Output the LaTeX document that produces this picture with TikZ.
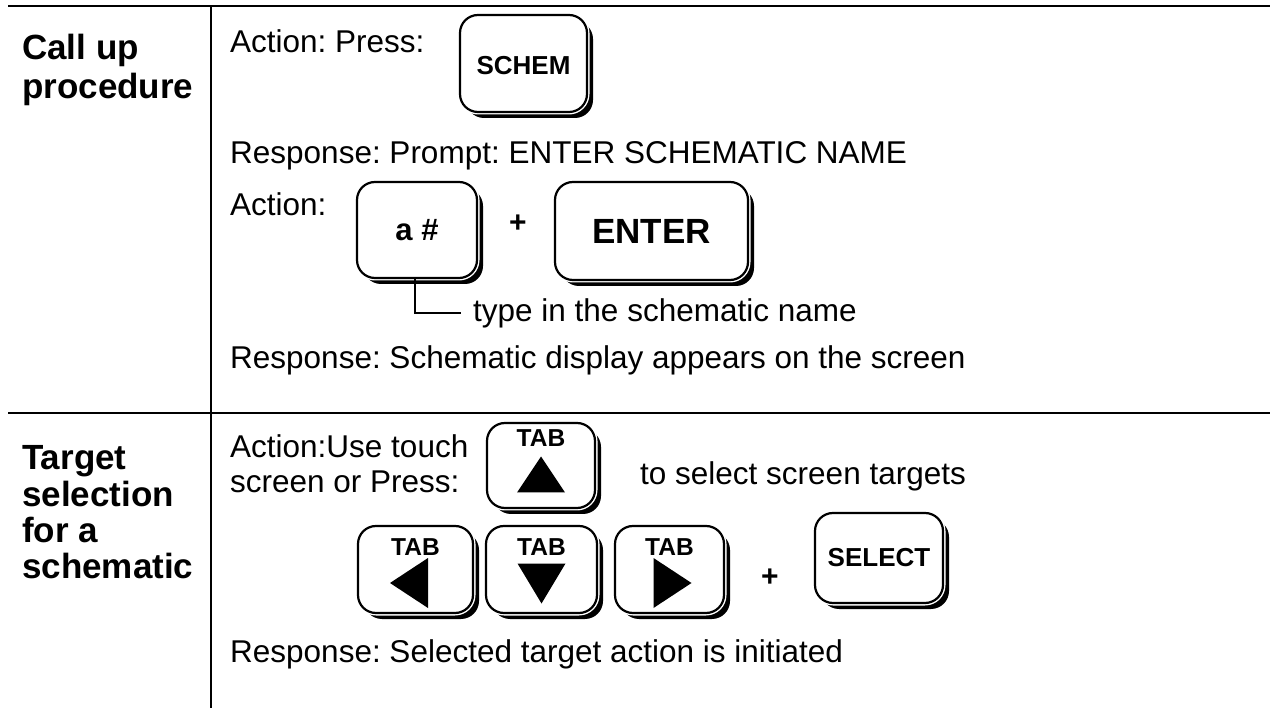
\documentclass[tikz,border=0pt]{standalone}
\usepackage{fontspec}
\setmainfont{Liberation Sans}
\usetikzlibrary{shadows,calc}
\frenchspacing
\begin{document}
\begin{tikzpicture}[x=1pt,y=-1pt,
  txt/.style={font=\fontsize{31.5}{34}\selectfont, inner sep=0pt, anchor=base west},
  head/.style={font=\fontsize{35}{36}\selectfont\bfseries, inner sep=0pt, anchor=base west},
  rule/.style={line width=2.5pt},
  key/.style={draw, line width=2.2pt, fill=white, rounded corners=18pt, inner sep=0pt,
    drop shadow={fill=black, opacity=1, shadow xshift=6pt, shadow yshift=-6pt},
    preaction={draw=white, line width=5pt}},
  klbl/.style={font=\fontsize{#1}{#1}\selectfont\bfseries, inner sep=0pt},
  plus/.style={font=\fontsize{30}{30}\selectfont\bfseries, inner sep=0pt}
]
\useasboundingbox (0,0) rectangle (1270,708);
\fill[white] (0,0) rectangle (1270,708);

% table rules
\coordinate (tl) at (8,6);
\coordinate (tr) at (1270,6);
\coordinate (ml) at (8,413);
\coordinate (mr) at (1270,413);
\coordinate (vt) at (211,6);
\coordinate (vb) at (211,708);
\draw[rule] (tl) -- (tr);
\draw[rule] (ml) -- (mr);
\draw[rule] (vt) -- (vb);

% headings
\node[head] (h1a) at (22,60) {Call up};
\node[head] (h1b) at (22,99) {procedure};
\node[head] (h2a) at (22,470) {Target};
\node[head] (h2b) at (22,507) {selection};
\node[head] (h2c) at (22,543) {for a};
\node[head] (h2d) at (22,578) {schematic};

% section 1
\node[txt] (a1) at (230,53) {Action: Press:};
\node[key, minimum width=127pt, minimum height=97pt] (schem) at (523.5,63.5) {};
\node[klbl=26] (schemt) at ($(schem.center)+(0,2)$) {SCHEM};
\node[txt] (r1) at (230,164) {Response: Prompt: ENTER SCHEMATIC NAME};
\node[txt] (a2) at (230,216) {Action:};
\node[key, minimum width=120pt, minimum height=96pt] (akey) at (417,230) {};
\node[klbl=31] (akeyt) at (akey.center) {a \#};
\node[plus] (p1) at (518,224) {+};
\node[key, minimum width=193pt, minimum height=98pt] (enter) at (651.5,231) {};
\node[klbl=35] (entert) at (enter.center) {ENTER};
\node[txt, anchor=west] (typein) at (473,313) {type in the schematic name};
\draw[line width=2pt] ([xshift=-2pt]akey.south) |- ([xshift=-12pt]typein.west);
\node[txt] (r2) at (230,369) {Response: Schematic display appears on the screen};

% section 2
\node[txt] (a3) at (230,458) {Action:Use touch};
\node[txt] (a3b) at (230,493) {screen or Press:};
\node[key, minimum width=108pt, minimum height=85pt] (tabup) at (541,465.5) {};
\node[klbl=24.5] (tabupt) at ($(tabup.north)+(0,16.5)$) {TAB};
\fill[shift={(tabup.center)}] (0,-9) -- (24,27) -- (-24,27) -- cycle;
\node[txt] (sel) at (640,485) {to select screen targets};

\node[key, minimum width=115pt, minimum height=87pt] (tabl) at (415.5,569.5) {};
\node[klbl=24.5] (tablt) at ($(tabl.north)+(0,22)$) {TAB};
\fill[shift={(tabl.center)}] (-25.5,13.5) -- (12.5,-11.5) -- (12.5,38.5) -- cycle;
\node[key, minimum width=111pt, minimum height=87pt] (tabd) at (541.5,569.5) {};
\node[klbl=24.5] (tabdt) at ($(tabd.north)+(0,22)$) {TAB};
\fill[shift={(tabd.center)}] (0,34) -- (24,-6) -- (-24,-6) -- cycle;
\node[key, minimum width=109pt, minimum height=87pt] (tabr) at (669.5,569.5) {};
\node[klbl=24.5] (tabrt) at ($(tabr.north)+(0,22)$) {TAB};
\fill[shift={(tabr.center)}] (22,13.5) -- (-16,-11.5) -- (-16,38.5) -- cycle;
\node[plus] (p2) at (770,578) {+};
\node[key, minimum width=128pt, minimum height=90pt] (select) at (879,558) {};
\node[klbl=26] (selectt) at (select.center) {SELECT};

\node[txt] (r3) at (230,662) {Response: Selected target action is initiated};
\end{tikzpicture}
\end{document}
